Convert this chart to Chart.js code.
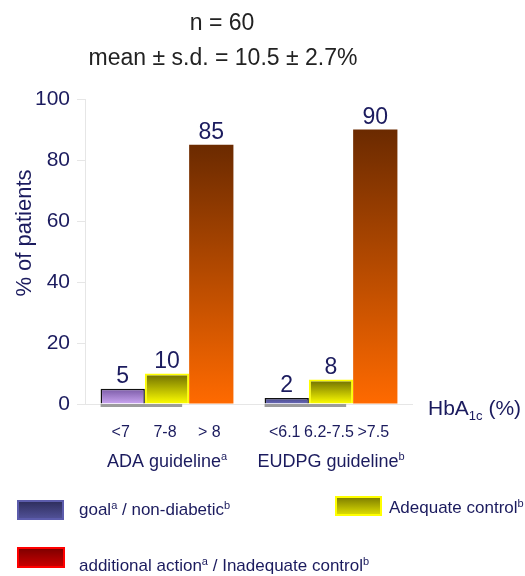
<!DOCTYPE html>
<html>
<head>
<meta charset="utf-8">
<script src="https://cdn.jsdelivr.net/npm/chart.js@4.4.1/dist/chart.umd.min.js"></script>
<style>
  html, body { margin: 0; padding: 0; background: #fff; }
</style>
</head>
<body>
<canvas id="chart" width="525" height="576"></canvas>
<script>
// data
const groups = ['ADA guideline', 'EUDPG guideline'];
const groupMarks = ['a', 'b'];
const adaBins = ['<7', '7-8', '> 8'];
const eudpgBins = ['<6.1', '6.2-7.5', '>7.5'];
const goalValues = [5, 2];
const adequateValues = [10, 8];
const inadequateValues = [85, 90];
const yTicks = [0, 20, 40, 60, 80, 100];
const titleLines = ['n = 60', 'mean \u00b1 s.d. = 10.5 \u00b1 2.7%'];

const FONT = "'Liberation Sans', Arial, Helvetica, sans-serif";
const NAVY = '#1b1b5e';
const binsByGroup = [adaBins, eudpgBins];

// gradient from the top of a bar down to the baseline
const barGradient = (tops, bottoms) => (ctx) => {
    const i = ctx.dataIndex || 0;
    const top = Array.isArray(tops) ? tops[i] : tops;
    const bottom = Array.isArray(bottoms) ? bottoms[i] : bottoms;
    const chart = ctx.chart;
    const y = chart.scales && chart.scales.y;
    if (!chart.chartArea || !y || ctx.raw == null) return bottom;
    const y0 = y.getPixelForValue(0);
    const y1 = y.getPixelForValue(ctx.raw);
    if (!isFinite(y0) || !isFinite(y1) || y0 === y1) return bottom;
    const g = chart.ctx.createLinearGradient(0, y1, 0, y0);
    g.addColorStop(0, top);
    g.addColorStop(1, bottom);
    return g;
};

// text with superscript / subscript parts: [text, 'sup'|'sub'|undefined]
const richWidth = (ctx, parts, size) => {
    let w = 0;
    parts.forEach(([t, kind]) => {
        ctx.font = `${kind ? Math.round(size * 0.62) : size}px ${FONT}`;
        w += ctx.measureText(t).width;
    });
    return w;
};

const drawRich = (ctx, parts, x, y, size, align) => {
    let cx = x;
    if (align === 'center') cx = x - richWidth(ctx, parts, size) / 2;
    ctx.textAlign = 'left';
    ctx.textBaseline = 'alphabetic';
    parts.forEach(([t, kind]) => {
        const s = kind ? Math.round(size * 0.62) : size;
        ctx.font = `${s}px ${FONT}`;
        let dy = 0;
        if (kind === 'sup') dy = -size * 0.38;
        if (kind === 'sub') dy = size * 0.25;
        ctx.fillText(t, cx, y + dy);
        cx += ctx.measureText(t).width;
    });
};

const shadowPlugin = {
    id: 'floorShadow',
    beforeDatasetsDraw(chart) {
        const ctx = chart.ctx;
        const m0 = chart.getDatasetMeta(0).data;
        const m1 = chart.getDatasetMeta(1).data;
        const base = chart.scales.y.getPixelForValue(0);
        ctx.save();
        ctx.fillStyle = '#9c9c9c';
        m0.forEach((bar, j) => {
            const other = m1[j];
            const left = bar.x - bar.width / 2;
            const right = other.x + other.width / 2 - 7;
            ctx.fillRect(left, base, right - left, 3);
        });
        ctx.restore();
    }
};

const textPlugin = {
    id: 'chartTexts',
    afterDraw(chart) {
        const ctx = chart.ctx;
        const xs = chart.scales.x;
        ctx.save();

        // title
        ctx.fillStyle = '#222';
        ctx.font = `23px ${FONT}`;
        ctx.textAlign = 'center';
        ctx.textBaseline = 'alphabetic';
        ctx.fillText(titleLines[0], 222, 30);
        ctx.fillText(titleLines[1], 223, 65);

        ctx.fillStyle = NAVY;

        // y axis title
        ctx.save();
        ctx.translate(31, 233);
        ctx.rotate(-Math.PI / 2);
        ctx.font = `22px ${FONT}`;
        ctx.textAlign = 'center';
        ctx.fillText('% of patients', 0, 0);
        ctx.restore();

        // value labels and bin labels
        for (let d = 0; d < 3; d++) {
            const meta = chart.getDatasetMeta(d);
            const values = chart.data.datasets[d].data;
            meta.data.forEach((bar, j) => {
                ctx.font = `23px ${FONT}`;
                ctx.textAlign = 'center';
                ctx.textBaseline = 'alphabetic';
                ctx.fillText(String(values[j]), bar.x, bar.y - 6);
                ctx.font = `16px ${FONT}`;
                ctx.fillText(binsByGroup[j][d], bar.x - 2, 437);
            });
        }

        // group labels
        groups.forEach((g, j) => {
            drawRich(ctx, [[g], [groupMarks[j], 'sup']], xs.getPixelForValue(j), 467, 18, 'center');
        });

        // axis label at the right
        drawRich(ctx, [['HbA'], ['1c', 'sub'], [' (%)']], 428, 415, 21, 'left');

        // legend
        const box = (x, y, w, h, top, bottom, border) => {
            const g = ctx.createLinearGradient(0, y, 0, y + h);
            g.addColorStop(0, top);
            g.addColorStop(1, bottom);
            ctx.fillStyle = g;
            ctx.fillRect(x, y, w, h);
            ctx.strokeStyle = border;
            ctx.lineWidth = 2;
            ctx.strokeRect(x + 1, y + 1, w - 2, h - 2);
        };
        box(17, 500, 47, 20, '#2b2b58', '#54549c', '#5c5cac');
        box(335, 496, 47, 20, '#767600', '#e6e600', '#ffff00');
        box(17, 547, 48, 21, '#780000', '#d00000', '#ff0000');

        ctx.fillStyle = NAVY;
        drawRich(ctx, [['goal'], ['a', 'sup'], [' / non-diabetic'], ['b', 'sup']], 79, 515, 17, 'left');
        drawRich(ctx, [['Adequate control'], ['b', 'sup']], 389, 513, 17, 'left');
        drawRich(ctx, [['additional action'], ['a', 'sup'], [' / Inadequate control'], ['b', 'sup']], 79, 571, 17, 'left');

        ctx.restore();
    }
};

new Chart(document.getElementById('chart'), {
    type: 'bar',
    data: {
        labels: groups,
        datasets: [
            {
                label: 'goal / non-diabetic',
                data: goalValues,
                backgroundColor: barGradient(['#7a5aa6', '#46468a'], ['#cba6f2', '#6c6cb8']),
                borderColor: '#111',
                borderWidth: 1.5
            },
            {
                label: 'Adequate control',
                data: adequateValues,
                backgroundColor: barGradient('#6c6c00', '#ffff00'),
                borderColor: '#ffff00',
                borderWidth: 2
            },
            {
                label: 'Inadequate control',
                data: inadequateValues,
                backgroundColor: barGradient('#6b2a00', '#ff6a00'),
                borderWidth: 0
            }
        ]
    },
    options: {
        responsive: false,
        animation: false,
        layout: { padding: { top: 99, right: 112, bottom: 172, left: 0 } },
        datasets: {
            bar: { barPercentage: 1, categoryPercentage: 0.81 }
        },
        plugins: {
            legend: { display: false },
            tooltip: { enabled: false },
            title: { display: false }
        },
        scales: {
            x: { display: false },
            y: {
                min: 0,
                max: 100,
                afterBuildTicks: (axis) => {
                    axis.ticks = yTicks.map(v => ({ value: v }));
                },
                afterFit: (axis) => { axis.width = 85; },
                ticks: {
                    color: NAVY,
                    padding: 7,
                    font: { family: FONT, size: 21 }
                },
                grid: {
                    drawTicks: true,
                    tickLength: 8,
                    tickColor: '#e6e6e6',
                    color: (c) => (c.tick && c.tick.value === 0 ? '#e6e6e6' : 'rgba(0,0,0,0)')
                },
                border: { display: true, color: '#e6e6e6' }
            }
        }
    },
    plugins: [shadowPlugin, textPlugin]
});
</script>
</body>
</html>
